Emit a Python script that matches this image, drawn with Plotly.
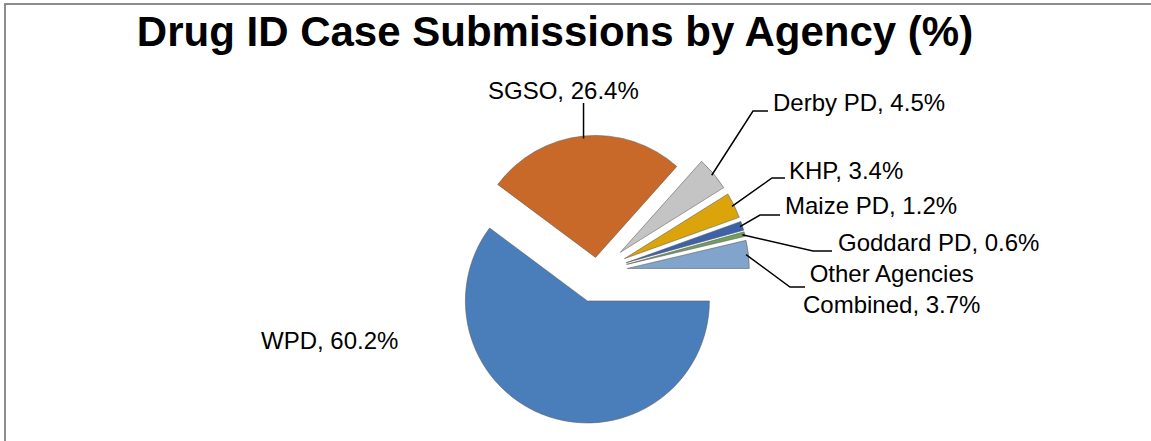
import math
import plotly.graph_objects as go

# data
agencies = ["WPD", "SGSO", "Derby PD", "KHP", "Maize PD", "Goddard PD", "Other Agencies Combined"]
shares = [60.2, 26.4, 4.5, 3.4, 1.2, 0.6, 3.7]
colors = ["#4A7EBB", "#C8692A", "#C4C4C4", "#DBA40B", "#3D62A8", "#6F9F5C", "#80A4CB"]
pulls = [0.25, 0.12, 0.25, 0.25, 0.25, 0.25, 0.25]

W, H = 1151, 441
FONT = "Arial, Liberation Sans, sans-serif"

# pie placement in pixels (centre of un-exploded pie, radius)
CX, CY, R = 597, 272, 122
ROTATION = 90

# label placement in pixels: (x, y, xanchor)
label_pos = [
    (329, 340, "center"),
    (563, 90, "center"),
    (771, 102, "left"),
    (787, 170, "left"),
    (783, 205, "left"),
    (836, 243, "left"),
    (891, 289, "center"),
]
# leader line elbows: (corner_x, end_x, y) ; None = no leader
elbows = [
    None,
    "vertical",
    (753, 768, 111),
    (772, 785, 178),
    (760, 780, 215),
    (813, 832, 251),
    (790, 805, 287),
]


def px(x, y):
    return x / W, 1 - y / H


half = R * (1 + max(pulls))
dom_x = [(CX - half) / W, (CX + half) / W]
dom_y = [1 - (CY + half) / H, 1 - (CY - half) / H]

fig = go.Figure(go.Pie(
    labels=agencies,
    values=shares,
    sort=False,
    direction="clockwise",
    rotation=ROTATION,
    pull=pulls,
    marker=dict(colors=colors, line=dict(color="rgba(90,90,90,0.55)", width=1)),
    textinfo="none",
    hoverinfo="label+percent",
    domain=dict(x=dom_x, y=dom_y),
    showlegend=False,
))

# label texts and leader lines, tips derived from the slice angles
total = sum(shares)
cum = 0
annotations = []
shapes = []
for i, (name, val) in enumerate(zip(agencies, shares)):
    mid = ROTATION + 360 * (cum + val / 2) / total
    cum += val
    a = math.radians(mid)
    dist = R * (pulls[i] + 0.98)
    tx, ty = CX + dist * math.sin(a), CY - dist * math.cos(a)

    if name == "Other Agencies Combined":
        txt = f"Other Agencies<br>Combined, {val}%"
    else:
        txt = f"{name}, {val}%"
    lx, ly, anchor = label_pos[i]
    ax, ay = px(lx, ly)
    annotations.append(dict(
        text=txt, x=ax, y=ay, xref="paper", yref="paper",
        xanchor=anchor, yanchor="middle", showarrow=False, align="center",
        font=dict(family=FONT, size=24, color="#000000"),
    ))

    e = elbows[i]
    if e is None:
        continue
    if e == "vertical":
        pts = [(tx, ty), (tx, ly + 13)]
    else:
        cx_, ex_, ey_ = e
        pts = [(tx, ty), (cx_, ey_), (ex_, ey_)]
    path = "M " + " L ".join(f"{px(x, y)[0]},{px(x, y)[1]}" for x, y in pts)
    shapes.append(dict(type="path", path=path, xref="paper", yref="paper",
                       line=dict(color="#000000", width=1.5)))

# outer chart frame (left and top edges visible)
shapes.append(dict(type="path", xref="paper", yref="paper",
                   path=f"M {px(5, 445)[0]},{px(5, 445)[1]} L {px(5, 4)[0]},{px(5, 4)[1]} "
                        f"L {px(1160, 4)[0]},{px(1160, 4)[1]}",
                   line=dict(color="#8C8C8C", width=2)))

fig.update_layout(
    title=dict(
        text="<b>Drug ID Case Submissions by Agency (%)</b>",
        font=dict(family=FONT, size=42, color="#000000"),
        x=555 / W, xanchor="center", xref="paper",
        y=1 - 31 / H, yanchor="middle", yref="container",
    ),
    annotations=annotations,
    shapes=shapes,
    width=W,
    height=H,
    margin=dict(l=0, r=0, t=0, b=0),
    paper_bgcolor="white",
    plot_bgcolor="white",
)

fig.write_html("out.html", config={"displayModeBar": False},
               post_script="document.body.style.margin='0';")
